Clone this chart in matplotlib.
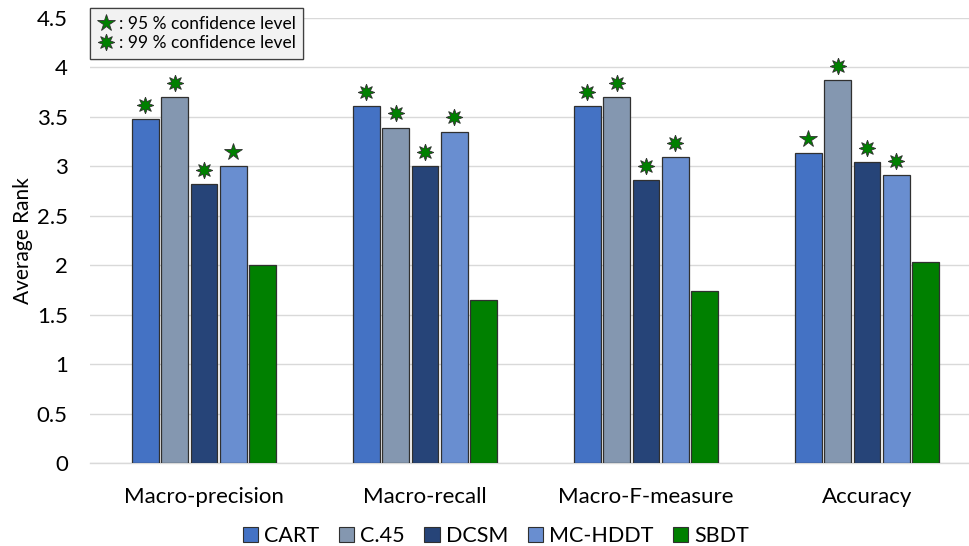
import matplotlib
matplotlib.use("Agg")
import matplotlib.pyplot as plt
from matplotlib.lines import Line2D
from matplotlib.patches import Patch
import numpy as np

plt.rcParams['font.family'] = ['Lato', 'DejaVu Sans']

categories = ["Macro-precision", "Macro-recall", "Macro-F-measure", "Accuracy"]
methods = ["CART", "C.45", "DCSM", "MC-HDDT", "SBDT"]
colors = ["#4472C4", "#8497B0", "#264478", "#698ED0", "#008000"]

cart = [3.48, 3.61, 3.61, 3.13]
c45 = [3.70, 3.39, 3.70, 3.87]
dcsm = [2.82, 3.00, 2.86, 3.04]
mchddt = [3.00, 3.35, 3.09, 2.91]
sbdt = [2.00, 1.65, 1.74, 2.03]

# significance of each baseline vs SBDT: 95 or 99 (per category)
sig_cart = [99, 99, 99, 95]
sig_c45 = [99, 99, 99, 99]
sig_dcsm = [99, 99, 99, 99]
sig_mchddt = [95, 99, 99, 99]

series = [cart, c45, dcsm, mchddt, sbdt]
sigs = [sig_cart, sig_c45, sig_dcsm, sig_mchddt, None]

yticks = [0, 0.5, 1, 1.5, 2, 2.5, 3, 3.5, 4, 4.5]
ytick_labels = ["0", "0.5", "1", "1.5", "2", "2.5", "3", "3.5", "4", "4.5"]

fig = plt.figure(figsize=(9.69, 5.46), dpi=100)
ax = fig.add_axes([90 / 969, 83 / 546, 879 / 969, 445 / 546])

x = np.arange(len(categories))
step = 0.133
width = 0.122
star_marker = {95: "*", 99: (8, 1, 0)}
star_size = {95: 13, 99: 12}

for i, (vals, col, sig) in enumerate(zip(series, colors, sigs)):
    pos = x + (i - 2) * step
    ax.bar(pos, vals, width=width, color=col, edgecolor="#303030", linewidth=0.9, zorder=3)
    if sig is not None:
        for p, v, s in zip(pos, vals, sig):
            ax.plot(p, v + 0.145, marker=star_marker[s], markersize=star_size[s],
                    color="#008000", markeredgecolor="#303030", markeredgewidth=0.6,
                    linestyle="none", zorder=4)

ax.set_xlim((90 - 204) / 221, (969 - 204) / 221)
ax.set_ylim(0, 4.5)
ax.set_yticks(yticks)
ax.set_yticklabels(ytick_labels, fontsize=16)
ax.set_xticks(x)
ax.set_xticklabels(categories, fontsize=16)
ax.tick_params(axis="both", length=0, colors="#000000")
ax.tick_params(axis="x", pad=17)
ax.tick_params(axis="y", pad=16)
ax.grid(axis="y", color="#D9D9D9", linewidth=1.0, zorder=0)
for side in ["top", "right", "left"]:
    ax.spines[side].set_visible(False)
ax.spines["bottom"].set_color("#D9D9D9")
ax.spines["bottom"].set_linewidth(1.0)
ax.set_ylabel("Average Rank", fontsize=15, labelpad=3)

# confidence-level key
conf_handles = [
    Line2D([], [], marker="*", markersize=13, color="#008000", markeredgecolor="#303030",
           markeredgewidth=0.6, linestyle="none"),
    Line2D([], [], marker=(8, 1, 0), markersize=12, color="#008000", markeredgecolor="#303030",
           markeredgewidth=0.6, linestyle="none"),
]
leg1 = ax.legend(conf_handles, [": 95 % confidence level", ": 99 % confidence level"],
                 loc="upper left", bbox_to_anchor=(0.0, 1.0 + 10 / 445), fontsize=12.5,
                 handlelength=1.0, handletextpad=0.2, labelspacing=0.2,
                 borderpad=0.45, borderaxespad=0.0, fancybox=False, framealpha=1,
                 facecolor="#F2F2F2", edgecolor="#404040")
leg1.get_frame().set_linewidth(0.9)
ax.add_artist(leg1)

# method key
method_handles = [Patch(facecolor=c, edgecolor="#303030", linewidth=0.8) for c in colors]
fig.legend(method_handles, methods, loc="lower center", bbox_to_anchor=(0.512, -0.035),
           ncol=5, fontsize=15.5, frameon=False, handlelength=0.7, handleheight=0.7,
           handletextpad=0.3, columnspacing=0.9)

fig.savefig("out.png", dpi=100)
